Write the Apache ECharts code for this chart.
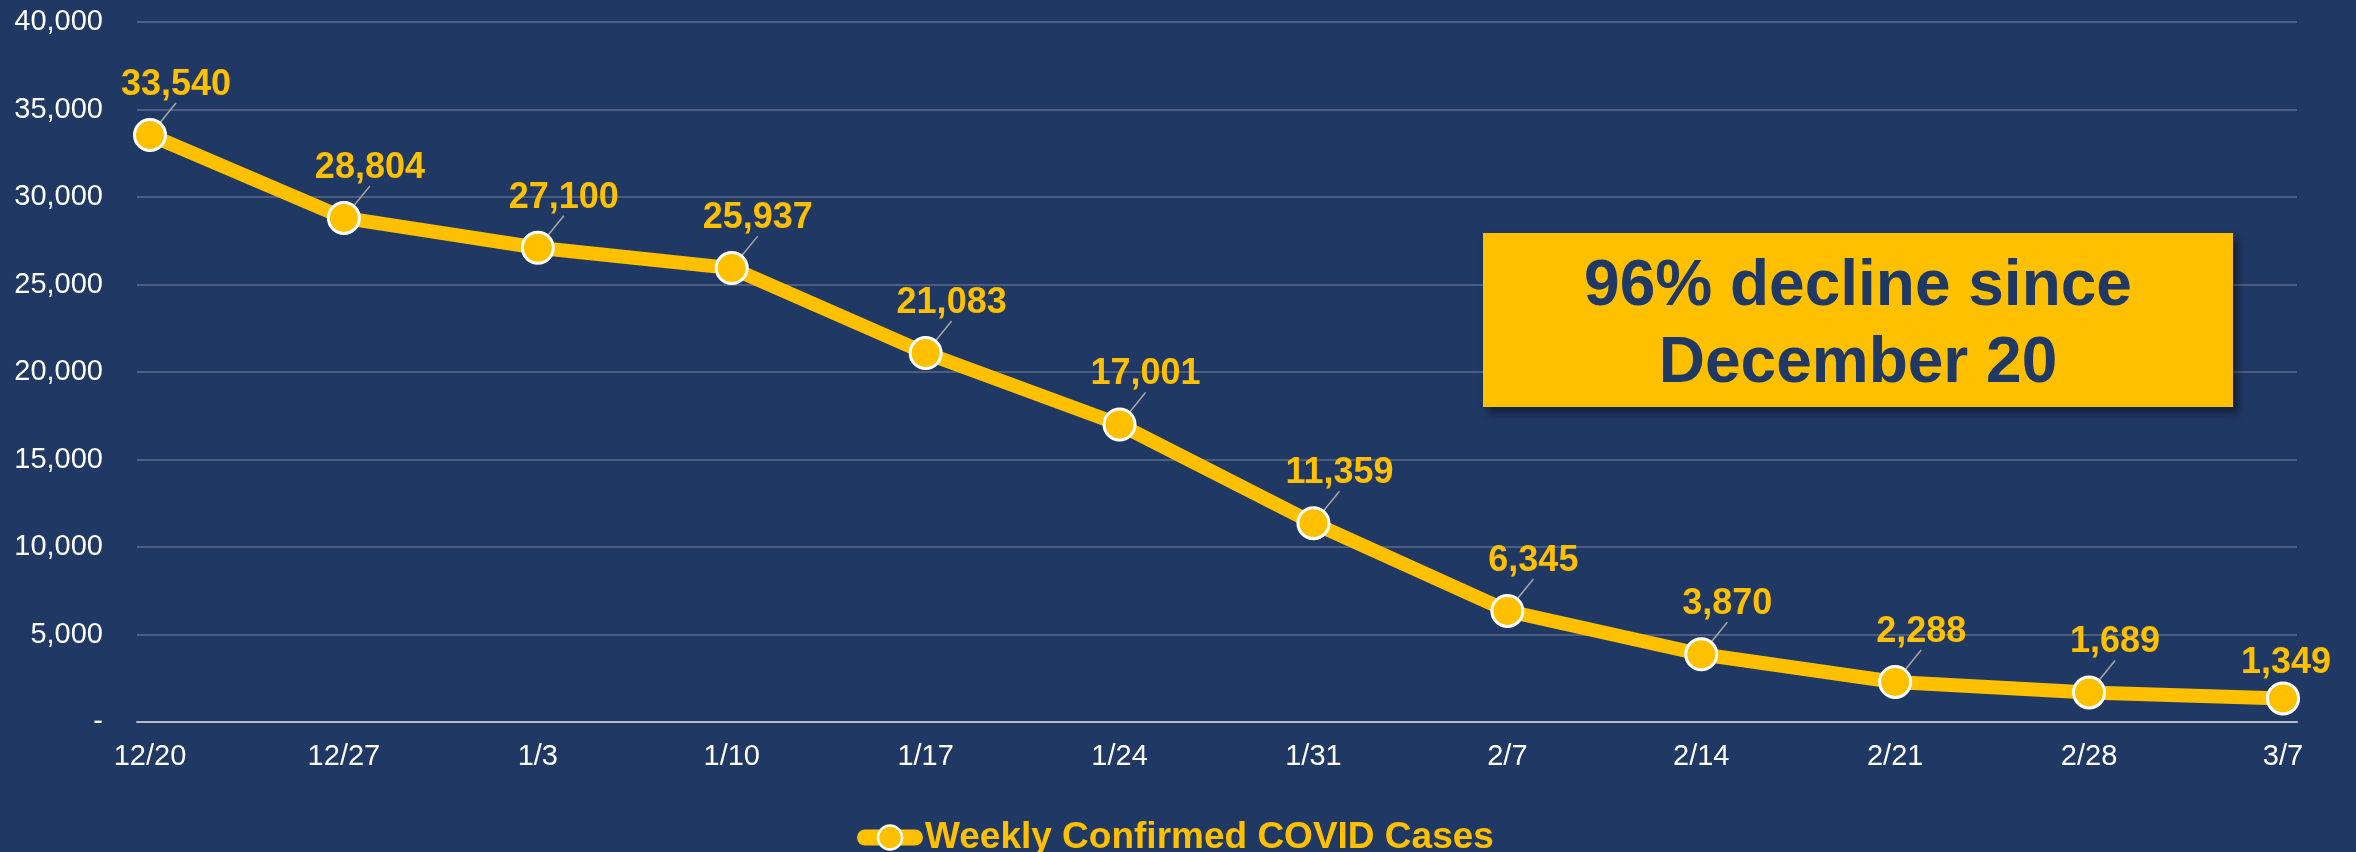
<!DOCTYPE html>
<html>
<head>
<meta charset="utf-8">
<title>Weekly Confirmed COVID Cases</title>
<script src="https://cdn.jsdelivr.net/npm/echarts@6/dist/echarts.min.js"></script>
<style>
  html, body { margin: 0; padding: 0; background: #203864; }
  #chart { width: 2356px; height: 852px; }
</style>
</head>
<body>
<div id="chart"></div>
<script>
// datos de la grafica
var semanas = ['12/20', '12/27', '1/3', '1/10', '1/17', '1/24', '1/31', '2/7', '2/14', '2/21', '2/28', '3/7'];
var casos = [33540, 28804, 27100, 25937, 21083, 17001, 11359, 6345, 3870, 2288, 1689, 1349];
var nombreSerie = 'Weekly Confirmed COVID Cases';
var textoCaja = ['96% decline since', 'December 20'];

var amarillo = '#FFC000';
var azul = '#203864';
var fuente = "'Liberation Sans', Arial, sans-serif";

function conComas(v) {
    return String(v).replace(/\B(?=(\d{3})+(?!\d))/g, ',');
}

// el ultimo punto lleva la etiqueta encima, sin linea guia
var ultimo = casos.length - 1;
var datosSerie = casos.map(function (v, i) {
    if (i !== ultimo) return v;
    return { value: v, labelLine: { show: false } };
});

var chart = echarts.init(document.getElementById('chart'));

chart.setOption({
    backgroundColor: azul,
    textStyle: { fontFamily: fuente },
    // grid 0: fondo con lineas, grid 1: la serie
    grid: [
        { left: 137, right: 59, top: 22, bottom: 130 },
        { left: 150, right: 73, top: 22, bottom: 130 }
    ],
    xAxis: [
        {
            gridIndex: 0, type: 'category', data: semanas,
            axisLine: { show: true, lineStyle: { color: '#b4bac6', width: 2 } },
            axisTick: { show: false }, axisLabel: { show: false }, splitLine: { show: false }
        },
        {
            gridIndex: 1, type: 'category', data: semanas, boundaryGap: false,
            axisLine: { show: false }, axisTick: { show: false },
            axisLabel: { color: '#ffffff', fontSize: 29, margin: 20, fontFamily: fuente }
        }
    ],
    yAxis: [
        {
            gridIndex: 0, type: 'value', min: 0, max: 40000, interval: 5000,
            axisLine: { show: false }, axisTick: { show: false },
            axisLabel: {
                color: '#ffffff', fontSize: 29, margin: 34, fontFamily: fuente,
                formatter: function (v) { return v === 0 ? '-' : conComas(v); }
            },
            splitLine: { lineStyle: { color: 'rgba(255,255,255,0.27)', width: 1.5 } }
        },
        {
            gridIndex: 1, type: 'value', min: 0, max: 40000, interval: 5000,
            show: false, splitLine: { show: false }
        }
    ],
    legend: {
        data: [nombreSerie],
        left: 852, top: 814,
        itemWidth: 50, itemHeight: 30,
        lineStyle: { width: 16, cap: 'round', color: amarillo },
        itemStyle: { color: amarillo, borderColor: '#ffffff', borderWidth: 2.5 },
        textStyle: {
            color: amarillo, fontSize: 37, fontWeight: 'bold', fontFamily: fuente,
            padding: [0, 0, 0, 5]
        }
    },
    series: [{
        name: nombreSerie,
        type: 'line',
        xAxisIndex: 1, yAxisIndex: 1,
        data: datosSerie,
        color: amarillo,
        lineStyle: { color: amarillo, width: 14 },
        symbol: 'circle',
        symbolSize: 31,
        itemStyle: { color: amarillo, borderColor: '#ffffff', borderWidth: 3 },
        z: 5,
        label: {
            show: true, position: 'top', distance: 0,
            color: amarillo, fontSize: 36, fontWeight: 'bold', fontFamily: fuente,
            formatter: function (p) { return conComas(p.value); }
        },
        labelLine: { show: true, lineStyle: { color: '#a6a6a6', width: 1.5 } },
        labelLayout: function (p) {
            if (p.dataIndex === ultimo) return { dx: 3 };
            return { dx: 26, dy: -15 };
        }
    }],
    graphic: [
        {
            type: 'rect', z: 10,
            shape: { x: 1483, y: 233, width: 750, height: 174 },
            style: { fill: amarillo, shadowColor: 'rgba(0,0,0,0.45)', shadowBlur: 8, shadowOffsetX: 5, shadowOffsetY: 6 }
        },
        {
            type: 'text', z: 11, x: 1858, y: 287,
            style: { text: textoCaja[0], fill: azul, font: "bold 64px 'Liberation Sans', Arial, sans-serif", textAlign: 'center', textVerticalAlign: 'middle' }
        },
        {
            type: 'text', z: 11, x: 1858, y: 364,
            style: { text: textoCaja[1], fill: azul, font: "bold 64px 'Liberation Sans', Arial, sans-serif", textAlign: 'center', textVerticalAlign: 'middle' }
        }
    ]
});
</script>
</body>
</html>
